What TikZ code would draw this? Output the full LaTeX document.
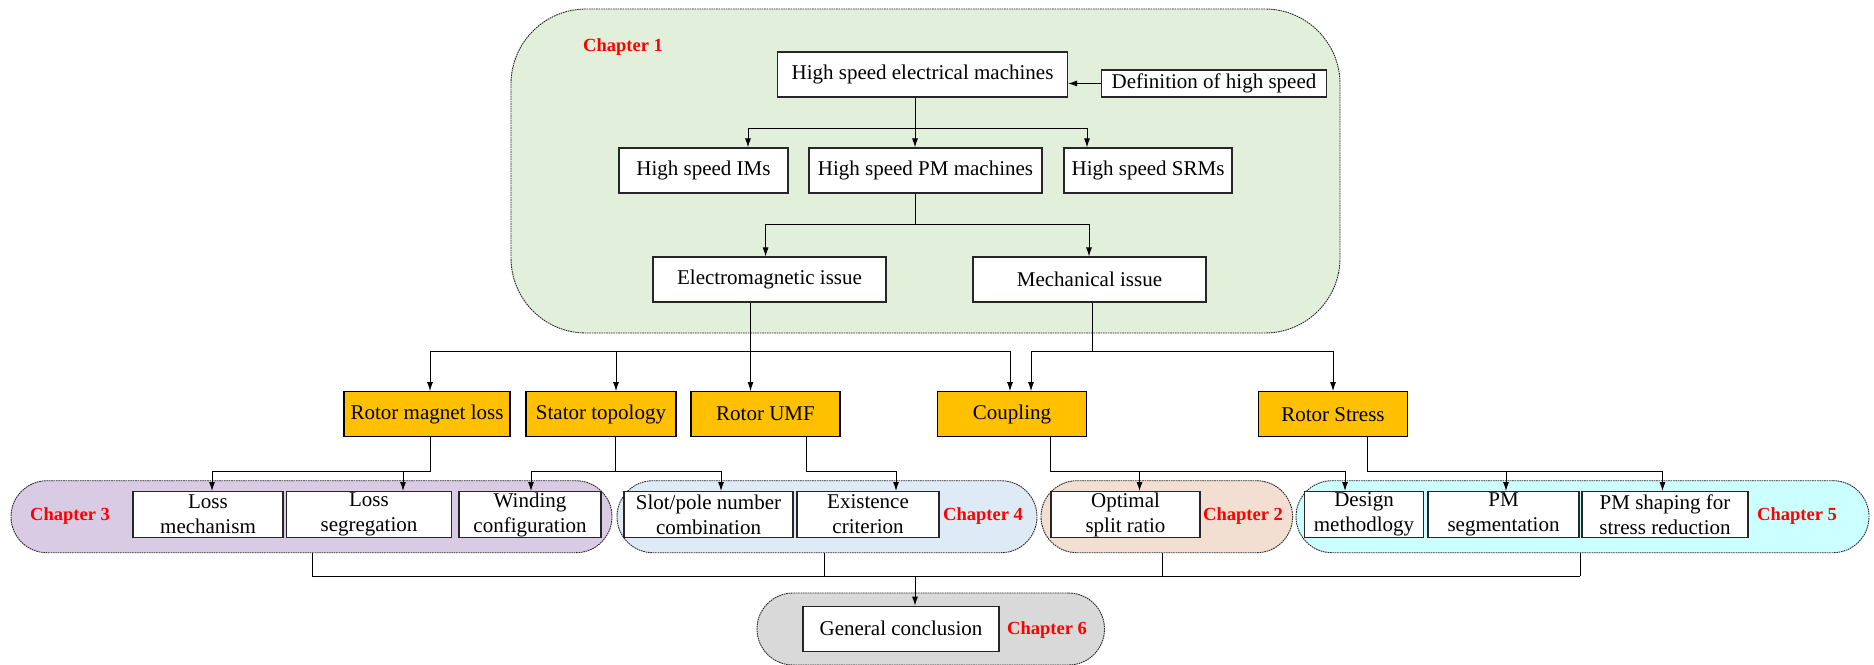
\documentclass[tikz,border=0pt]{standalone}
\usepackage{fontspec}
\setmainfont{Liberation Serif}
\usetikzlibrary{arrows.meta,calc}
\definecolor{orng}{HTML}{FFC000}
\definecolor{cOne}{HTML}{E2EFDA}
\definecolor{cTwo}{HTML}{F3DFD1}
\definecolor{cThree}{HTML}{D9CBE4}
\definecolor{cFour}{HTML}{DEEAF6}
\definecolor{cFive}{HTML}{CCFFFF}
\definecolor{cSix}{HTML}{D9D9D9}
\definecolor{chred}{HTML}{FF0000}
\begin{document}
\begin{tikzpicture}[x=1pt,y=-1pt,
  txt/.style={font=\fontsize{21}{25}\selectfont},
  box/.style={txt,draw=black!85,fill=white,line width=1.2pt,inner sep=0pt,align=center},
  obox/.style={box,fill=orng,draw=black},
  chap/.style={draw=black!85,dash pattern=on 1.6pt off 0.8pt,line width=0.9pt,inner sep=0pt},
  chlab/.style={font=\fontsize{18.5}{20}\selectfont\bfseries,text=chred,inner sep=0pt,anchor=base west},
  conn/.style={line width=0.9pt,draw=black},
  arr/.style={conn,-{Latex[length=9pt,width=6pt]}}]
\useasboundingbox (0,0) rectangle (1874,664);

% chapter containers
\node[chap,fill=cOne,minimum width=829,minimum height=324,rounded corners=75pt] (ch1) at (925.5,171) {};
\node[chap,fill=cThree,minimum width=601,minimum height=72,rounded corners=36pt] (ch3) at (311.5,516.7) {};
\node[chap,fill=cFour,minimum width=420,minimum height=72,rounded corners=36pt] (ch4) at (827,516.7) {};
\node[chap,fill=cTwo,minimum width=251.6,minimum height=72,rounded corners=36pt] (ch2) at (1166.8,516.7) {};
\node[chap,fill=cFive,minimum width=573,minimum height=72,rounded corners=36pt] (ch5) at (1582.5,516.7) {};
\node[chap,fill=cSix,minimum width=347.5,minimum height=72,rounded corners=36pt] (ch6) at (930.75,629) {};

% chapter labels
\node[chlab] (l1) at (583,51) {Chapter 1};
\node[chlab] (l3) at (30,520) {Chapter 3};
\node[chlab] (l4) at (943,520) {Chapter 4};
\node[chlab] (l2) at (1203,520) {Chapter 2};
\node[chlab] (l5) at (1757,520) {Chapter 5};
\node[chlab] (l6) at (1007,634) {Chapter 6};

% chapter 1 boxes
\node[box,minimum width=290,minimum height=45] (hsem) at (922.5,74.5) {High speed electrical machines};
\node[box,minimum width=225,minimum height=27] (def) at (1214,83.5) {Definition of high speed};
\node[box,minimum width=169,minimum height=45] (ims) at (703.5,170.5) {High speed IMs};
\node[box,minimum width=233,minimum height=45] (pm) at (925.5,170.5) {High speed PM machines};
\node[box,minimum width=168,minimum height=45] (srm) at (1148,170.5) {High speed SRMs};
\node[box,minimum width=233,minimum height=45] (em) at (769.5,279.5) {Electromagnetic issue};
\node[box,minimum width=233,minimum height=45] (mech) at (1089.5,279.5) {Mechanical issue};

% orange boxes
\node[obox,minimum width=166,minimum height=45] (rml) at (427,414.2) {Rotor magnet loss};
\node[obox,minimum width=150,minimum height=45] (st) at (601,414.2) {Stator topology};
\node[obox,minimum width=149,minimum height=45] (umf) at (765.5,414.2) {Rotor UMF};
\node[obox,minimum width=149,minimum height=45] (cpl) at (1012,414.2) {Coupling};
\node[obox,minimum width=149,minimum height=45] (rs) at (1333,414.2) {Rotor Stress};

% lower boxes
\node[box,minimum width=150,minimum height=46] (lm) at (208,514.6) {Loss\\mechanism};
\node[box,minimum width=165,minimum height=46] (ls) at (369,514.6) {Loss\\segregation};
\node[box,minimum width=142,minimum height=46] (wc) at (530,514.6) {Winding\\configuration};
\node[box,minimum width=169,minimum height=46] (sp) at (708.5,514.6) {Slot/pole number\\combination};
\node[box,minimum width=142,minimum height=46] (ec) at (868,514.6) {Existence\\criterion};
\node[box,minimum width=149,minimum height=46] (osr) at (1125.5,514.6) {Optimal\\split ratio};
\node[box,minimum width=119,minimum height=46] (dm) at (1364,514.6) {Design\\methodlogy};
\node[box,minimum width=151,minimum height=46] (pms) at (1503.5,514.6) {PM\\segmentation};
\node[box,minimum width=166,minimum height=46] (pmh) at (1665,514.6) {PM shaping for\\stress reduction};
\node[box,minimum width=196,minimum height=45] (gc) at (901,628.7) {General conclusion};

% junction coordinates
\coordinate (j1) at (915,128); \coordinate (j1a) at (748,128); \coordinate (j1b) at (1087,128);
\coordinate (j2) at (915,224); \coordinate (j2a) at (765.6,224); \coordinate (j2b) at (1089,224);
\coordinate (j3) at (750.5,351); \coordinate (j3a) at (430,351); \coordinate (j3b) at (616,351); \coordinate (j3c) at (1010,351);
\coordinate (j4) at (1092,351); \coordinate (j4a) at (1031,351); \coordinate (j4b) at (1333,351);
\coordinate (j5) at (430,471); \coordinate (j5a) at (212,471); \coordinate (j5b) at (403,471);
\coordinate (j6) at (615,471); \coordinate (j6a) at (531,471); \coordinate (j6b) at (721,471);
\coordinate (j7) at (806,471); \coordinate (j7a) at (896,471);
\coordinate (j8) at (1050,471); \coordinate (j8a) at (1139.5,471); \coordinate (j8b) at (1345,471);
\coordinate (j9) at (1367.6,471); \coordinate (j9a) at (1506,471); \coordinate (j9b) at (1662.5,471);
\coordinate (k) at (915,576); \coordinate (ka) at (312,576); \coordinate (kb) at (824,576);
\coordinate (kc) at (1162,576); \coordinate (kd) at (1580,576);

% connectors
\draw[arr] (def.west) -- (def.west -| hsem.east);
\draw[conn] (hsem.south -| j1) -- (j1);
\draw[conn] (j1a) -- (j1b);
\draw[arr] (j1a) -- (j1a |- ims.north);
\draw[arr] (j1) -- (j1 |- pm.north);
\draw[arr] (j1b) -- (j1b |- srm.north);

\draw[conn] (pm.south -| j2) -- (j2);
\draw[conn] (j2a) -- (j2b);
\draw[arr] (j2a) -- (j2a |- em.north);
\draw[arr] (j2b) -- (j2b |- mech.north);

\draw[conn] (em.south -| j3) -- (j3);
\draw[conn] (j3a) -- (j3c);
\draw[arr] (j3a) -- (j3a |- rml.north);
\draw[arr] (j3b) -- (j3b |- st.north);
\draw[arr] (j3) -- (j3 |- umf.north);
\draw[arr] (j3c) -- (j3c |- cpl.north);

\draw[conn] (mech.south -| j4) -- (j4);
\draw[conn] (j4a) -- (j4b);
\draw[arr] (j4a) -- (j4a |- cpl.north);
\draw[arr] (j4b) -- (j4b |- rs.north);

\draw[conn] (rml.south -| j5) -- (j5) -- (j5a);
\draw[arr] (j5a) -- (j5a |- lm.north);
\draw[arr] (j5b) -- (j5b |- ls.north);

\draw[conn] (st.south -| j6) -- (j6);
\draw[conn] (j6a) -- (j6b);
\draw[arr] (j6a) -- (j6a |- wc.north);
\draw[arr] (j6b) -- (j6b |- sp.north);

\draw[conn] (umf.south -| j7) -- (j7) -- (j7a);
\draw[arr] (j7a) -- (j7a |- ec.north);

\draw[conn] (cpl.south -| j8) -- (j8) -- (j8b);
\draw[arr] (j8a) -- (j8a |- osr.north);
\draw[arr] (j8b) -- (j8b |- dm.north);

\draw[conn] (rs.south -| j9) -- (j9) -- (j9b);
\draw[arr] (j9a) -- (j9a |- pms.north);
\draw[arr] (j9b) -- (j9b |- pmh.north);

\draw[conn] (ch3.south -| ka) -- (ka);
\draw[conn] (ch4.south -| kb) -- (kb);
\draw[conn] (ch2.south -| kc) -- (kc);
\draw[conn] (ch5.south -| kd) -- (kd);
\draw[conn] (ka) -- (kd);
\draw[arr] (k) -- (k |- gc.north);
\end{tikzpicture}
\end{document}
